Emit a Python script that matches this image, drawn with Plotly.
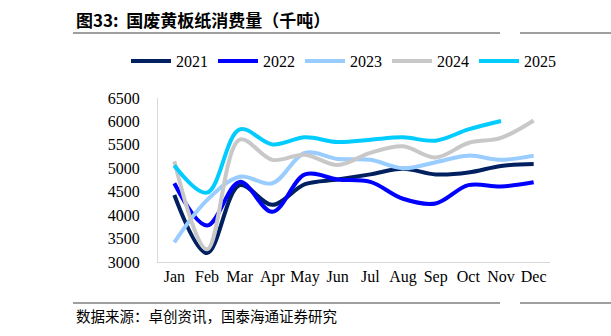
import plotly.graph_objects as go

months = ["Jan", "Feb", "Mar", "Apr", "May", "Jun", "Jul", "Aug", "Sep", "Oct", "Nov", "Dec"]
y2021 = [4430, 3190, 4640, 4220, 4660, 4760, 4870, 4990, 4870, 4910, 5050, 5090]
y2022 = [4680, 3780, 4710, 4070, 4870, 4760, 4710, 4350, 4250, 4640, 4610, 4700]
y2023 = [3420, 4320, 4820, 4680, 5330, 5200, 5180, 5000, 5130, 5270, 5180, 5270]
y2024 = [5150, 3270, 5610, 5180, 5290, 5070, 5330, 5470, 5230, 5540, 5650, 6020]
y2025 = [5060, 4480, 5830, 5510, 5660, 5560, 5610, 5660, 5590, 5830, 6010]

series = [
    ("2021", y2021, "#002060"),
    ("2022", y2022, "#0000FF"),
    ("2023", y2023, "#99CCFF"),
    ("2024", y2024, "#C8C8C8"),
    ("2025", y2025, "#00CCFF"),
]

serif = "Liberation Serif, Times New Roman, serif"
cjk = "Noto Sans CJK SC"

fig = go.Figure()
for name, vals, color in series:
    fig.add_trace(go.Scatter(
        x=months[:len(vals)], y=vals, name=name, mode="lines",
        line=dict(color=color, width=4, shape="spline", smoothing=1.0),
    ))

L, R, T, B = 158, 61, 98, 74
W, H = 611, 336
pw, ph = W - L - R, H - T - B

def px(x):
    return (x - L) / pw

def py(y):
    return (H - B - y) / ph

fig.update_layout(
    width=W, height=H,
    margin=dict(l=L, r=R, t=T, b=B),
    paper_bgcolor="white", plot_bgcolor="white",
    font=dict(family=serif, size=16, color="black"),
    showlegend=True,
    legend=dict(orientation="h", x=px(126), xanchor="left", y=py(61), yanchor="middle",
                font=dict(family=serif, size=16), itemwidth=40, tracegroupgap=0,
                bgcolor="rgba(0,0,0,0)"),
    xaxis=dict(showgrid=False, showline=True, linecolor="#D9D9D9", linewidth=1,
               range=[-0.5, 11.5], type="category",
               ticks="", tickfont=dict(family=serif, size=16), fixedrange=True),
    yaxis=dict(range=[3000, 6500], tickvals=[3000, 3500, 4000, 4500, 5000, 5500, 6000, 6500],
               showgrid=False, showline=True, linecolor="#D9D9D9", linewidth=1,
               ticks="", ticklabelstandoff=14, tickfont=dict(family=serif, size=16), zeroline=False),
    shapes=[
        dict(type="line", xref="paper", yref="paper", x0=px(73), x1=px(500), y0=py(33), y1=py(33),
             line=dict(color="#404040", width=1.2)),
        dict(type="line", xref="paper", yref="paper", x0=px(520), x1=px(611), y0=py(33), y1=py(33),
             line=dict(color="#404040", width=1.2)),
        dict(type="line", xref="paper", yref="paper", x0=px(73), x1=px(500), y0=py(303), y1=py(303),
             line=dict(color="#404040", width=1.2)),
        dict(type="line", xref="paper", yref="paper", x0=px(520), x1=px(611), y0=py(303), y1=py(303),
             line=dict(color="#404040", width=1.2)),
    ],
    annotations=[
        dict(text="<b>图33:  国废黄板纸消费量（千吨）</b>", xref="paper", yref="paper",
             x=px(74), y=py(19), xanchor="left", yanchor="middle", showarrow=False,
             font=dict(family=cjk, size=17, color="black")),
        dict(text="数据来源：卓创资讯，国泰海通证券研究", xref="paper", yref="paper",
             x=px(74), y=py(315), xanchor="left", yanchor="middle", showarrow=False,
             font=dict(family=cjk, size=14.5, color="black")),
    ],
)

fig.write_html("out.html")
